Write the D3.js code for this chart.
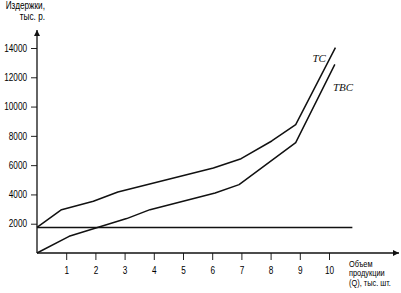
<!DOCTYPE html>
<html>
<head>
<meta charset="utf-8">
<script src="https://cdn.jsdelivr.net/npm/d3@7"></script>
<style>
  body { margin: 0; background: #fff; }
  svg { display: block; }
  .axis text { font-family: "Liberation Sans", Arial, sans-serif; font-size: 10px; fill: #000; }
  .axis line { stroke: #222; stroke-width: 1; }
</style>
</head>
<body>
<script>
// chart values
var fc = 1750;
var fcRange = [0, 10.8];

var tcQ      = [0, 0.84, 1.93, 2.77, 6.04, 6.99, 8.04, 8.86, 10.22];
var tcValues = [1750, 2960, 3530, 4170, 5800, 6440, 7650, 8770, 14020];

var tvcQ      = [0, 1.1, 3.07, 3.87, 6.1, 6.92, 8.86, 10.2];
var tvcValues = [0, 1140, 2350, 2960, 4100, 4670, 7540, 12880];

var xTicks = [1, 2, 3, 4, 5, 6, 7, 8, 9, 10];
var yTicks = [2000, 4000, 6000, 8000, 10000, 12000, 14000];

var w = 401;
var h = 293;

// squeeze Liberation Sans down to a narrow face
function narrow(sel) {
  sel.each(function(){
    var len = this.getComputedTextLength();
    d3.select(this)
      .attr("textLength", len * 0.82)
      .attr("lengthAdjust", "spacingAndGlyphs");
  });
}

var svg = d3.select("body")
            .append("svg")
            .attr("width", w)
            .attr("height", h);

var xScale = d3.scaleLinear()
               .domain([0, 10])
               .range([37, 329]);

var yScale = d3.scaleLinear()
               .domain([0, 14000])
               .range([253, 48]);

// arrow heads
var defs = svg.append("defs");
defs.append("marker")
    .attr("id", "arrow")
    .attr("viewBox", "0 0 10 10")
    .attr("refX", 10)
    .attr("refY", 5)
    .attr("markerWidth", 6)
    .attr("markerHeight", 6)
    .attr("markerUnits", "userSpaceOnUse")
    .attr("orient", "auto")
  .append("path")
    .attr("d", "M0,0L10,5L0,10Z")
    .attr("fill", "#111");

// axes
svg.append("g")
   .attr("class", "axis")
   .attr("transform", "translate(" + xScale(0) + ",0)")
   .call(d3.axisLeft(yScale)
           .tickValues(yTicks)
           .tickSize(6)
           .tickPadding(4)
           .tickFormat(d3.format("d")))
   .call(function(g){ g.select(".domain").remove(); })
   .selectAll("text").call(narrow);

svg.append("g")
   .attr("class", "axis")
   .attr("transform", "translate(0," + yScale(0) + ")")
   .call(d3.axisBottom(xScale)
           .tickValues(xTicks)
           .tickSize(7)
           .tickPadding(7)
           .tickFormat(d3.format("d")))
   .call(function(g){ g.select(".domain").remove(); })
   .selectAll("text").call(narrow);

svg.append("line")
   .attr("x1", xScale(0)).attr("y1", yScale(0))
   .attr("x2", xScale(0)).attr("y2", 30)
   .attr("stroke", "#111")
   .attr("stroke-width", 1.3)
   .attr("marker-end", "url(#arrow)");

svg.append("line")
   .attr("x1", xScale(0)).attr("y1", yScale(0))
   .attr("x2", 399).attr("y2", yScale(0))
   .attr("stroke", "#111")
   .attr("stroke-width", 1.3)
   .attr("marker-end", "url(#arrow)");

// curves
var line = d3.line()
             .x(function(d){ return xScale(d[0]); })
             .y(function(d){ return yScale(d[1]); });

svg.append("path")
   .attr("d", line(fcRange.map(function(q){ return [q, fc]; })))
   .attr("fill", "none")
   .attr("stroke", "#111")
   .attr("stroke-width", 1.5);

svg.append("path")
   .attr("d", line(d3.zip(tcQ, tcValues)))
   .attr("fill", "none")
   .attr("stroke", "#111")
   .attr("stroke-width", 1.5)
   .attr("stroke-linejoin", "round");

svg.append("path")
   .attr("d", line(d3.zip(tvcQ, tvcValues)))
   .attr("fill", "none")
   .attr("stroke", "#111")
   .attr("stroke-width", 1.5)
   .attr("stroke-linejoin", "round");

// labels
var sans = "'Liberation Sans', Arial, sans-serif";

svg.append("text")
   .attr("x", 45).attr("y", 9)
   .attr("text-anchor", "end")
   .attr("font-family", sans)
   .attr("font-size", "10px")
   .attr("fill", "#000")
   .text("Издержки,")
   .call(narrow);

svg.append("text")
   .attr("x", 45).attr("y", 19.5)
   .attr("text-anchor", "end")
   .attr("font-family", sans)
   .attr("font-size", "10px")
   .attr("fill", "#000")
   .text("тыс. р.")
   .call(narrow);

var xLabel = ["Объем", "продукции", "(Q), тыс. шт."];
svg.selectAll("text.xlab")
   .data(xLabel)
   .enter()
   .append("text")
   .attr("class", "xlab")
   .attr("x", 349)
   .attr("y", function(d, i){ return 267 + i * 9.3; })
   .attr("font-family", sans)
   .attr("font-size", "9px")
   .attr("fill", "#000")
   .text(function(d){ return d; })
   .call(narrow);

svg.append("text")
   .attr("x", 312.5).attr("y", 62)
   .attr("font-family", "'Liberation Serif', serif")
   .attr("font-style", "italic")
   .attr("font-size", "11px")
   .attr("fill", "#111")
   .text("TC");

svg.append("text")
   .attr("x", 333).attr("y", 91)
   .attr("font-family", "'Liberation Serif', serif")
   .attr("font-style", "italic")
   .attr("font-size", "11px")
   .attr("fill", "#111")
   .text("TBC");
</script>
</body>
</html>
